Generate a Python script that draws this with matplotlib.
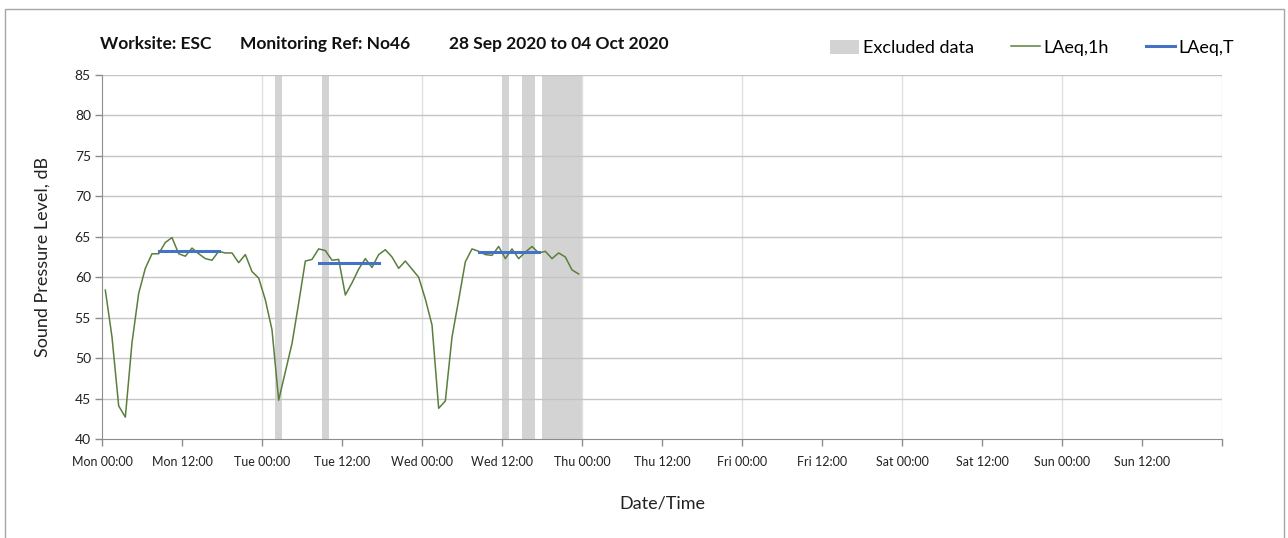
import numpy as np
import matplotlib
matplotlib.use("Agg")
import matplotlib.pyplot as plt
from matplotlib.patches import Patch
from matplotlib.lines import Line2D

plt.rcParams['font.family'] = ['Lato', 'DejaVu Sans']

# Hourly LAeq,1h values, Mon 00:00 to Wed 23:00
laeq_1h = [58.4, 52.6, 44.1, 42.7, 51.9, 58.0, 61.1, 62.9, 62.9, 64.3,
           64.9, 62.9, 62.6, 63.6, 62.9, 62.3, 62.1, 63.2, 63.0, 63.0,
           61.8, 62.8, 60.7, 59.9,
           57.2, 53.5, 44.8, 48.3, 51.8, 56.8, 62.0, 62.2, 63.5, 63.3,
           62.1, 62.2, 57.8, 59.3, 61.0, 62.3, 61.2, 62.8, 63.4, 62.5,
           61.1, 62.0, 61.0, 60.0,
           57.3, 54.1, 43.8, 44.7, 52.6, 57.2, 61.9, 63.5, 63.2, 62.8,
           62.7, 63.8, 62.3, 63.5, 62.3, 63.1, 63.8, 63.0, 63.2, 62.3,
           63.0, 62.5, 60.9, 60.4]
hours = np.arange(len(laeq_1h)) + 0.5

# LAeq,T over the daytime period (hours from Mon 00:00)
laeq_t = [63.2, 61.7, 63.1]
t_start = [8.5, 32.5, 56.5]
t_end = [17.5, 41.5, 65.5]

# Excluded periods (hours from Mon 00:00)
excl_start = [26, 33, 60, 63, 66]
excl_end = [27, 34, 61, 65, 72]

tick_labels = ['Mon 00:00', 'Mon 12:00', 'Tue 00:00', 'Tue 12:00', 'Wed 00:00',
               'Wed 12:00', 'Thu 00:00', 'Thu 12:00', 'Fri 00:00', 'Fri 12:00',
               'Sat 00:00', 'Sat 12:00', 'Sun 00:00', 'Sun 12:00', '']

title_parts = ['Worksite: ESC', 'Monitoring Ref: No46', '28 Sep 2020 to 04 Oct 2020']

green = '#5a7f3c'
blue = '#4472c4'
band = '#d3d3d3'

fig = plt.figure(figsize=(12.88, 5.38), dpi=100)
W, H = 1288, 538
ax = fig.add_axes([102 / W, 1 - 439 / H, 1120 / W, 364 / H])

# outer chart border
fig.patches.append(plt.Rectangle((5 / W, -0.1), 1279 / W, 1.1 - 9 / H,
                                 transform=fig.transFigure, fill=False,
                                 edgecolor='#a6a6a6', linewidth=1.0))

for s, e in zip(excl_start, excl_end):
    ax.axvspan(s, e, color=band, lw=0, zorder=0.3)

ax.plot(hours, laeq_1h, color=green, lw=1.1, zorder=3)
for v, s, e in zip(laeq_t, t_start, t_end):
    ax.plot([s, e], [v, v], color=blue, lw=2.2, zorder=4)

ax.set_xlim(0, 168)
ax.set_ylim(40, 85)
ax.set_yticks(np.arange(40, 86, 5))
ax.set_xticks(np.arange(0, 169, 12))
ax.set_xticklabels(tick_labels)
ax.set_axisbelow(True)

for y in range(45, 86, 5):
    ax.axhline(y, color='#c4c4c4', lw=1.0, zorder=0.5)
for x in range(24, 169, 24):
    ax.axvline(x, color='#e0e0e0', lw=1.0, zorder=0.4)

for sp in ['top', 'right']:
    ax.spines[sp].set_visible(False)
ax.spines['left'].set_color('#8c8c8c')
ax.spines['bottom'].set_color('#8c8c8c')
ax.tick_params(axis='both', colors='#8c8c8c', length=5, width=1,
               labelcolor='#222222')
ax.tick_params(axis='x', labelsize=9, pad=7)
ax.tick_params(axis='y', labelsize=10, pad=3)

ax.set_ylabel('Sound Pressure Level, dB', fontsize=13, color='#222222', labelpad=17)
ax.set_xlabel('Date/Time', fontsize=13, color='#222222', labelpad=20)

for txt, xp in zip(title_parts, [100, 240, 449]):
    fig.text(xp / W, 1 - 44 / H, txt, fontsize=12.5, fontweight='bold',
             va='center', ha='left', color='#111111')

handles = [Patch(facecolor=band, edgecolor='none', label='Excluded data'),
           Line2D([], [], color=green, lw=1.1, label='LAeq,1h'),
           Line2D([], [], color=blue, lw=2.2, label='LAeq,T')]
fig.legend(handles=handles, loc='center right', ncol=3, frameon=False,
           bbox_to_anchor=(1250 / W, 1 - 48 / H), fontsize=13,
           handlelength=1.6, handleheight=0.8, handletextpad=0.2,
           columnspacing=2.05)

fig.savefig('out.png', dpi=100)
